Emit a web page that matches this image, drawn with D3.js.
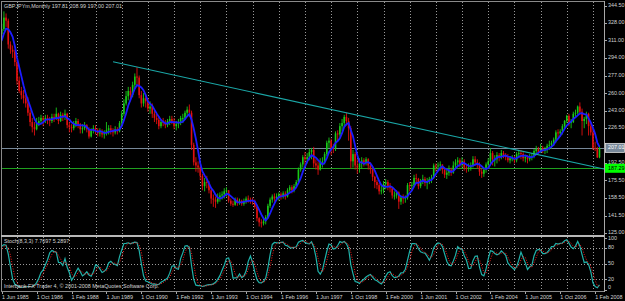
<!DOCTYPE html>
<html><head><meta charset="utf-8">
<script src="https://cdn.jsdelivr.net/npm/d3@7"></script>
<style>
html,body{margin:0;padding:0;background:#000;}
svg{display:block;}
text{font-family:"Liberation Sans",Arial,sans-serif;}
</style></head><body>
<svg id="c" width="625" height="301"></svg>
<script>
// ---------------- DATA ----------------
const symbolTitle = "GBPJPYm,Monthly  197.81 208.99 197.00 207.01";
const stochTitle = "Stoch(8,3,3) 7.7697 5.2897";
const footerText = "Interbank FX Trader 4, \u00a9 2001-2008 MetaQuotes Software Corp.";
const firstVisible = {year: 1985, month: 6};   // first visible bar: Jun 1985
const priorBars = 4;                           // Feb..May 1985, only feed the indicators

// monthly closes (4 prior bars + Jun 1985 .. Apr 2008)
const closes = [300,306,310,317,
 322,333,330,307,302,300,290,
 272,262,258,255,250,241,232,227,225,231,233,236,
 234,236,234,233,237,236,240,233,239,237,240,229,
 227,226,230,233,230,225,226,229,225,218,224,226,
 224,221,222,220,221,224,226,224,222,225,223,231,
 240,250,257,262,258,268,276,275,258,250,255,252,
 245,247,240,236,234,228,232,231,229,233,235,233,
 228,230,231,236,236,241,244,241,210,193,190,188,
 180,170,174,173,166,158,157,155,159,161,162,165,
 166,156,153,152,157,154,156,153,155,158,157,156,
 155,150,139,135,134,136,140,151,157,160,158,160,
 162,160,163,160,166,169,166,170,174,186,191,198,
 196,198,203,205,192,190,186,193,194,201,212,214,
 207,206,221,220,228,231,237,233,226,194,201,190,
 188,192,195,193,196,190,186,179,174,171,165,166,
 172,174,170,168,161,161,164,155,159,158,159,171,
 170,171,178,177,170,175,177,173,175,177,178,190,
 189,190,191,186,181,183,186,183,190,193,195,191,
 194,188,187,188,190,196,193,191,184,182,186,191,
 194,202,196,196,200,198,202,200,198,195,197,197,
 195,201,202,201,197,198,196,199,199,204,206,203,
 207,204,205,209,210,212,215,222,221,223,228,233,
 238,232,232,240,241,247,242,233,235,240,228,222,
 207,206,197.81,207.01];
const highs = [308,312,316,322,
 327,339,337,332,310,306,302,
 292,276,266,263,260,256,244,236,232,236,237,239,
 238,239,239,237,240,240,246,241,242,241,244,241,
 232,230,233,236,235,231,230,232,230,227,226,229,
 229,226,226,225,224,232,229,229,226,228,227,233,
 243,254,262,266,266,271,279,285,277,262,260,259,
 255,252,250,243,240,238,235,236,234,235,238,238,
 236,233,235,238,240,243,247,249,243,212,198,194,
 190,182,178,180,175,168,162,160,163,164,165,168,
 169,166,158,156,159,159,158,157,158,160,161,159,
 159,157,152,140,138,139,142,153,159,162,163,163,
 164,164,165,165,168,171,171,172,176,188,193,200,
 203,202,206,207,208,196,194,197,198,203,214,217,
 216,211,223,224,231,235,239,241,236,228,205,203,
 196,197,198,197,198,197,193,189,180,176,173,171,
 175,177,176,173,168,165,166,165,161,162,161,173,
 174,174,181,182,178,177,181,179,178,179,181,192,
 192,193,194,191,188,186,190,188,194,196,198,197,
 198,196,191,192,193,199,199,196,193,187,188,193,
 197,207,204,200,203,202,205,204,202,201,199,200,
 199,203,205,205,203,200,200,201,202,206,209,208,
 211,209,208,211,214,214,217,224,225,225,230,234,
 239,240,235,242,244,248,251,245,237,242,241,232,
 226,213,208,208.99];
const lows = [290,298,302,308,
 312,320,324,303,298,294,286,
 268,260,254,250,246,238,228,222,219,224,228,230,
 228,231,230,228,231,232,234,230,232,233,234,226,
 222,222,224,227,226,221,221,224,222,216,217,221,
 220,218,218,217,216,219,220,220,218,220,220,222,
 229,238,248,253,252,256,265,268,255,246,247,246,
 242,240,236,232,230,225,226,228,226,227,229,230,
 225,224,226,229,231,234,238,237,205,190,184,183,
 176,166,165,168,163,153,150,149,153,155,157,158,
 160,154,151,150,151,151,152,151,151,153,154,153,
 152,148,136,131,130,132,133,139,149,154,155,156,
 156,157,158,157,159,164,163,164,168,173,184,188,
 190,192,195,196,188,186,181,185,188,191,199,207,
 200,202,204,214,218,223,228,229,214,187,188,186,
 182,183,187,189,190,186,182,175,168,167,162,162,
 163,167,166,164,158,157,158,148,152,153,154,157,
 165,166,169,172,167,168,172,170,167,172,173,177,
 184,185,185,182,178,177,180,180,182,187,189,188,
 188,185,183,184,185,188,190,187,180,178,179,183,
 188,192,190,189,192,194,196,197,195,193,192,194,
 192,193,197,196,194,193,192,194,195,197,201,201,
 202,202,201,202,205,206,209,212,217,218,220,226,
 231,228,226,231,237,239,239,219,226,230,219,219,
 205,204,197.2,197.00];

// drawn objects
const trendPoints = [{bar: 51, price: 290.3}, {bar: 274, price: 187.5}];
const bidLine = 207.01;
const greenLine = 187.29;

// axis labels
const priceTicks = ["344.50","328.00","311.00","294.00","277.00","260.00","243.00","226.50","192.50","175.50","158.50","141.50","125.00"];
const stochTicks = [100, 80, 50, 20, 0];
const stochLevels = [80, 50, 20];
const timeLabels = ["1 Jun 1985","1 Oct 1986","1 Feb 1988","1 Jun 1989","1 Oct 1990","1 Feb 1992","1 Jun 1993","1 Oct 1994","1 Feb 1996","1 Jun 1997","1 Oct 1998","1 Feb 2000","1 Jun 2001","1 Oct 2002","1 Feb 2004","1 Jun 2005","1 Oct 2006","1 Feb 2008"];
const gridYears = d3.range(1986, 2009);

// ---------------- INDICATORS ----------------
const N = closes.length;
const opens = closes.map((c, k) => k === 0 ? c : closes[k - 1]);
const maPeriod = 5;
const ma = closes.map((c, k) => d3.mean(closes.slice(Math.max(0, k - maPeriod + 1), k + 1)));
const kP = 8, slowing = 3, dP = 3;
const LL = lows.map((l, k) => d3.min(lows.slice(Math.max(0, k - kP + 1), k + 1)));
const HH = highs.map((h, k) => d3.max(highs.slice(Math.max(0, k - kP + 1), k + 1)));
const stMain = closes.map((c, k) => {
  let num = 0, den = 0;
  for (let j = Math.max(0, k - slowing + 1); j <= k; j++) { num += closes[j] - LL[j]; den += HH[j] - LL[j]; }
  return den === 0 ? 100 : 100 * num / den;
});
const stSig = stMain.map((v, k) => d3.mean(stMain.slice(Math.max(0, k - dP + 1), k + 1)));

// ---------------- SCALES ----------------
const W = 625, H = 301;
const plotL = 2, plotR = 604, mainT = 2, mainB = 235, subT = 237, subB = 291;
const lastBar = N - 1 - priorBars;
const x = d3.scaleLinear().domain([0, lastBar]).range([1.73, 599.5]);
const bx = k => x(k - priorBars);
const y = d3.scaleLinear().domain([125, 344.5]).range([232.7, 5.7]);
const ys = d3.scaleLinear().domain([0, 100]).range([289.5, 237.5]);
const monthIndex = (yr, m) => (yr - firstVisible.year) * 12 + (m - firstVisible.month);
const parseT = d3.timeParse("%d %b %Y");

const svg = d3.select("#c");
svg.append("rect").attr("width", W).attr("height", H).attr("fill", "#000");
const defs = svg.append("defs");
defs.append("clipPath").attr("id", "cm").append("rect")
  .attr("x", plotL).attr("y", mainT).attr("width", plotR - plotL).attr("height", mainB - mainT);
defs.append("clipPath").attr("id", "cs").append("rect")
  .attr("x", plotL).attr("y", subT).attr("width", plotR - plotL).attr("height", subB - subT);

const gridColor = "#9a9a9a";
// vertical dotted grid (every January)
const grid = svg.append("g");
gridYears.forEach(yr => {
  const gx = Math.round(x(monthIndex(yr, 1))) + 0.5;
  [[mainT, mainB], [subT, subB]].forEach(([a, b]) => {
    grid.append("line").attr("x1", gx).attr("x2", gx).attr("y1", a).attr("y2", b)
      .attr("stroke", gridColor).attr("stroke-width", 1).attr("stroke-dasharray", "1,2");
  });
});
// stoch levels
stochLevels.forEach(v => {
  const ly = Math.round(ys(v)) + 0.5;
  grid.append("line").attr("x1", plotL).attr("x2", plotR).attr("y1", ly).attr("y2", ly)
    .attr("stroke", gridColor).attr("stroke-width", 1).attr("stroke-dasharray", "1,2");
});

// ---------------- MAIN PANEL ----------------
const main = svg.append("g").attr("clip-path", "url(#cm)");
// horizontal lines
main.append("line").attr("x1", plotL).attr("x2", plotR).attr("y1", Math.round(y(bidLine)) + 0.5).attr("y2", Math.round(y(bidLine)) + 0.5)
  .attr("stroke", "#778899").attr("stroke-width", 1);
main.append("line").attr("x1", plotL).attr("x2", plotR).attr("y1", Math.round(y(greenLine)) + 0.5).attr("y2", Math.round(y(greenLine)) + 0.5)
  .attr("stroke", "#1fa01f").attr("stroke-width", 1);

const bull = "#18c818", bear = "#e01010";
const bars = d3.range(N);
main.append("g").selectAll("line").data(bars).join("line")
  .attr("x1", k => bx(k)).attr("x2", k => bx(k))
  .attr("y1", k => y(highs[k])).attr("y2", k => y(lows[k]))
  .attr("stroke", k => closes[k] >= opens[k] ? bull : bear).attr("stroke-width", 0.9);
main.append("g").selectAll("rect").data(bars).join("rect")
  .attr("x", k => bx(k) - 0.8).attr("width", 1.6)
  .attr("y", k => y(Math.max(opens[k], closes[k])))
  .attr("height", k => Math.max(1, Math.abs(y(opens[k]) - y(closes[k]))))
  .attr("fill", k => closes[k] >= opens[k] ? bull : bear);

// moving average
main.append("path").datum(bars)
  .attr("d", d3.line().x(k => bx(k)).y(k => y(ma[k])))
  .attr("fill", "none").attr("stroke", "#1c1cff").attr("stroke-width", 1.8);

// trend line (ray to the right edge)
const t0 = trendPoints[0], t1 = trendPoints[1];
const tx0 = x(t0.bar), ty0 = y(t0.price), tx1 = x(t1.bar), ty1 = y(t1.price);
const slope = (ty1 - ty0) / (tx1 - tx0);
main.append("line").attr("x1", tx0).attr("y1", ty0).attr("x2", plotR).attr("y2", ty0 + slope * (plotR - tx0))
  .attr("stroke", "#1aa7a7").attr("stroke-width", 1.1);

// ---------------- STOCH PANEL ----------------
const sub = svg.append("g").attr("clip-path", "url(#cs)");
sub.append("path").datum(bars)
  .attr("d", d3.line().x(k => bx(k)).y(k => ys(stMain[k])))
  .attr("fill", "none").attr("stroke", "#20b2aa").attr("stroke-width", 1.2);
sub.append("path").datum(bars)
  .attr("d", d3.line().x(k => bx(k)).y(k => ys(stSig[k])))
  .attr("fill", "none").attr("stroke", "#ff2020").attr("stroke-width", 1).attr("stroke-dasharray", "1,1.5");

// ---------------- FRAME ----------------
const frame = "#a8a8a8";
svg.append("line").attr("x1", plotL - 1).attr("x2", plotR).attr("y1", 1.5).attr("y2", 1.5).attr("stroke", "#8a8a8a");
svg.append("line").attr("x1", 1.5).attr("x2", 1.5).attr("y1", 1).attr("y2", subB).attr("stroke", "#8a8a8a");
svg.append("rect").attr("x", 1).attr("y", 235).attr("width", plotR - 1).attr("height", 2).attr("fill", "#b8b8b8");
svg.append("line").attr("x1", 1).attr("x2", plotR).attr("y1", subB + 0.5).attr("y2", subB + 0.5).attr("stroke", "#8a8a8a");
svg.append("line").attr("x1", plotR + 0.5).attr("x2", plotR + 0.5).attr("y1", 1).attr("y2", subB + 1).attr("stroke", frame);

const txtColor = "#d4d4d4", fs = 5.4;
const label = (g, tx, ty, s, anchor) => g.append("text").attr("x", tx).attr("y", ty).text(s)
  .attr("fill", txtColor).attr("font-size", fs).attr("dominant-baseline", "middle").attr("text-anchor", anchor || "start");

const ax = svg.append("g");
priceTicks.forEach(s => {
  const ty = y(+s);
  ax.append("line").attr("x1", plotR).attr("x2", plotR + 3).attr("y1", Math.round(ty) + 0.5).attr("y2", Math.round(ty) + 0.5).attr("stroke", frame);
  label(ax, 608, ty, s);
});
// bid label box
const by = y(bidLine);
ax.append("rect").attr("x", 605.5).attr("y", by - 4.5).attr("width", 19).attr("height", 9)
  .attr("fill", "#778899").attr("stroke", "#e0e0e0").attr("stroke-width", 0.8);
ax.append("text").attr("x", 608).attr("y", by).text(bidLine.toFixed(2)).attr("fill", "#ffffff")
  .attr("font-size", fs).attr("dominant-baseline", "middle");
const gy = y(greenLine);
ax.append("rect").attr("x", 605).attr("y", gy - 4.5).attr("width", 20).attr("height", 9).attr("fill", "#00ff00");
ax.append("text").attr("x", 608).attr("y", gy).text(greenLine.toFixed(2)).attr("fill", "#000")
  .attr("font-size", fs).attr("dominant-baseline", "middle");

stochTicks.forEach(v => {
  const ty = Math.max(238.5, Math.min(287.5, ys(v)));
  ax.append("line").attr("x1", plotR).attr("x2", plotR + 3).attr("y1", Math.round(ys(v)) + 0.5).attr("y2", Math.round(ys(v)) + 0.5).attr("stroke", frame);
  label(ax, 608, ty, String(v));
});

timeLabels.forEach(s => {
  const d = parseT(s);
  const tx = x(monthIndex(d.getFullYear(), d.getMonth() + 1));
  ax.append("line").attr("x1", Math.round(tx) + 0.5).attr("x2", Math.round(tx) + 0.5).attr("y1", subB + 1).attr("y2", subB + 3).attr("stroke", frame);
  label(ax, Math.max(2, tx), 297.5, s);
});

label(svg, 4, 6.5, symbolTitle);
label(svg, 4, 241.5, stochTitle);
label(svg, 4, 286.5, footerText);
</script>
</body></html>
